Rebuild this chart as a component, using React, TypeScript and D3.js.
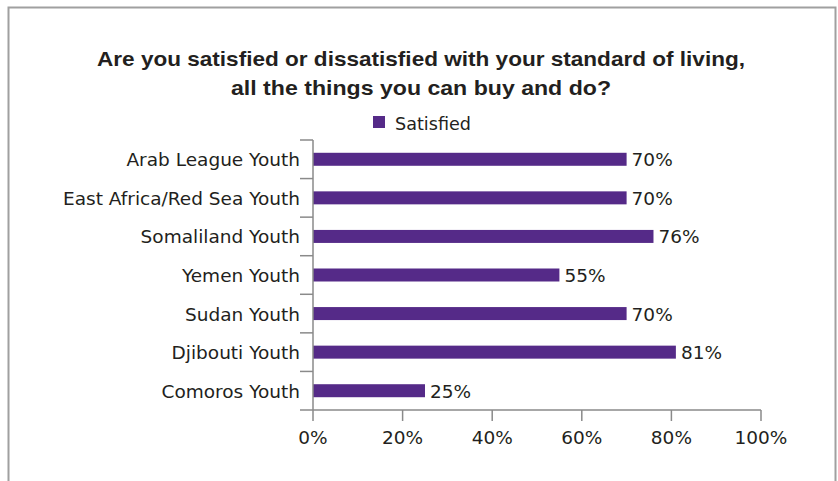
import React from "react";
import * as d3 from "d3";

const categories = [
  "Arab League Youth",
  "East Africa/Red Sea Youth",
  "Somaliland Youth",
  "Yemen Youth",
  "Sudan Youth",
  "Djibouti Youth",
  "Comoros Youth",
];
const satisfied = [70, 70, 76, 55, 70, 81, 25];
const xTicks = [0, 20, 40, 60, 80, 100];
const titleLines = [
  "Are you satisfied or dissatisfied with your standard of living,",
  "all the things you can buy and do?",
];
const seriesName = "Satisfied";

const W = 838;
const H = 481;
const PURPLE = "#552a88";
const TEXT = "#231f20";
const AXIS = "#8a8a8a";

export default function App() {
  const x = d3.scaleLinear().domain([0, 100]).range([313, 761]);
  const y = d3.scaleBand<string>().domain(categories).range([140, 410]).paddingInner(0).paddingOuter(0);
  const bw = y.bandwidth();
  const barH = 13;
  const titleFont = "'Liberation Sans', Arial, Helvetica, sans-serif";
  const font = "'DejaVu Sans', 'Liberation Sans', sans-serif";
  const fs = 18.5;
  const titleLens = [648, 380];

  return (
    <svg width={W} height={H} style={{ position: "absolute", left: 0, top: 0 }} fontFamily={font}>
      <rect x={0} y={0} width={W} height={H} fill="#fff" />
      {/* frame */}
      <path d={`M8.5,${H} V7.5 H835.5 V${H}`} fill="none" stroke="#a0a0a0" strokeWidth={2} />
      {/* title */}
      {titleLines.map((t, i) => (
        <text key={i} x={421} y={66 + i * 29} textAnchor="middle" fontWeight="bold" fontSize={21} fill={TEXT}
          fontFamily={titleFont} textLength={titleLens[i]} lengthAdjust="spacingAndGlyphs">
          {t}
        </text>
      ))}
      {/* legend */}
      <rect x={373} y={116} width={12} height={12} fill={PURPLE} />
      <text x={395} y={129.5} fontSize={fs} fill={TEXT} textLength={76} lengthAdjust="spacingAndGlyphs">{seriesName}</text>
      {/* bars */}
      {categories.map((c, i) => {
        const cy = (y(c) as number) + bw / 2;
        return (
          <g key={c}>
            <rect x={x(0)} y={cy - barH / 2} width={x(satisfied[i]) - x(0)} height={barH} fill={PURPLE} />
            <text x={x(satisfied[i]) + 5} y={cy + 7} fontSize={fs} fill={TEXT}>{satisfied[i]}%</text>
            <text x={300} y={cy + 7} fontSize={fs} fill={TEXT} textAnchor="end">{c}</text>
          </g>
        );
      })}
      {/* y axis */}
      <line x1={x(0)} x2={x(0)} y1={140} y2={410} stroke={AXIS} strokeWidth={1.5} />
      {categories.map((c) => (
        <line key={c} x1={300} x2={x(0)} y1={y(c) as number} y2={y(c) as number} stroke={AXIS} strokeWidth={1.5} />
      ))}
      {/* x axis */}
      <line x1={300} x2={x(100)} y1={410} y2={410} stroke={AXIS} strokeWidth={1.5} />
      {xTicks.map((t) => (
        <g key={t}>
          <line x1={x(t)} x2={x(t)} y1={410} y2={421} stroke={AXIS} strokeWidth={1.5} />
          <text x={x(t)} y={444} fontSize={fs} fill={TEXT} textAnchor="middle">{t}%</text>
        </g>
      ))}
    </svg>
  );
}
